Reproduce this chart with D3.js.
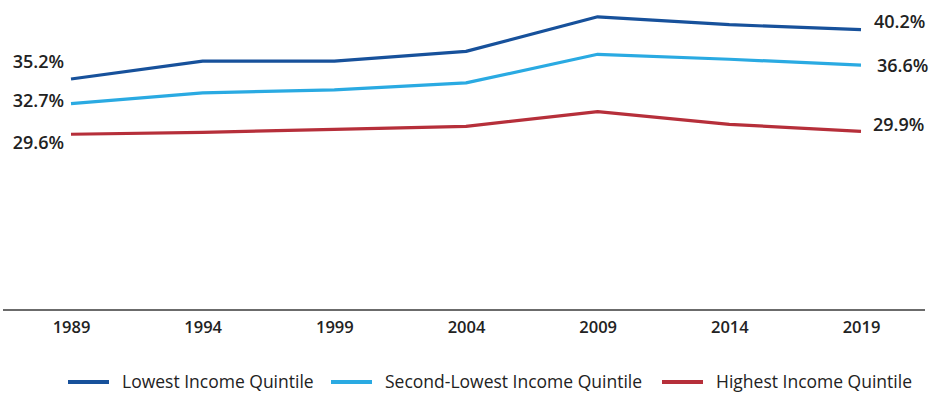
<!DOCTYPE html>
<html>
<head>
<meta charset="utf-8">
<script src="https://cdn.jsdelivr.net/npm/d3@7"></script>
<style>
  body { margin: 0; background: #fff; }
  svg { display: block; font-family: "Open Sans", "Lato", sans-serif; }
</style>
</head>
<body>
<svg width="930" height="393"></svg>
<script>
  // data
  var years = [1989, 1994, 1999, 2004, 2009, 2014, 2019];
  var lowest = [35.2, 37.0, 37.0, 38.0, 41.5, 40.7, 40.2];
  var secondLowest = [32.7, 33.8, 34.1, 34.8, 37.7, 37.2, 36.6];
  var highest = [29.6, 29.8, 30.1, 30.4, 31.9, 30.6, 29.9];
  var seriesNames = ["Lowest Income Quintile", "Second-Lowest Income Quintile", "Highest Income Quintile"];

  // styles
  var colors = ["#17519b", "#2aaae2", "#b62f3a"];
  var labelOffsets = [[-17, -8], [-3, 1], [8, -7]];   // left / right label nudges
  var rightLabelX = [874, 877, 873];
  var legendTextX = [122, 385, 716];

  var svg = d3.select("svg");

  var x = d3.scaleLinear().domain([1989, 2019]).range([71, 861]);
  var y = d3.scaleLinear().domain([11.8, 43.2]).range([310, 0]);

  var series = [lowest, secondLowest, highest].map(function(vals, i){
    return {
      name: seriesNames[i],
      color: colors[i],
      points: vals.map(function(v, j){ return {year: years[j], value: v}; })
    };
  });

  var line = d3.line()
    .x(function(d){ return x(d.year); })
    .y(function(d){ return y(d.value); });

  // baseline
  svg.append("line")
    .attr("x1", 3).attr("x2", 925)
    .attr("y1", y(11.8)).attr("y2", y(11.8))
    .attr("stroke", "#3a3a3a")
    .attr("stroke-width", 1.5);

  // x axis labels
  var xAxis = d3.axisBottom(x)
    .tickValues(years)
    .tickFormat(d3.format("d"))
    .tickSize(0)
    .tickPadding(11);

  var gx = svg.append("g")
    .attr("transform", "translate(0," + y(11.8) + ")")
    .call(xAxis);
  gx.select(".domain").remove();
  gx.selectAll("text")
    .attr("font-family", "'Open Sans', sans-serif")
    .attr("font-size", 16.5)
    .attr("font-weight", 600)
    .attr("fill", "#222");

  // lines
  svg.selectAll("path.series")
    .data(series)
    .enter().append("path")
    .attr("class", "series")
    .attr("d", function(d){ return line(d.points); })
    .attr("fill", "none")
    .attr("stroke", function(d){ return d.color; })
    .attr("stroke-width", 3.2)
    .attr("stroke-linejoin", "round");

  // start labels
  svg.selectAll("text.start")
    .data(series)
    .enter().append("text")
    .attr("class", "start")
    .attr("x", 64)
    .attr("y", function(d, i){ return y(d.points[0].value) + labelOffsets[i][0]; })
    .attr("dy", "0.35em")
    .attr("text-anchor", "end")
    .attr("font-size", 18)
    .attr("font-weight", 600)
    .attr("fill", "#222")
    .text(function(d){ return d.points[0].value.toFixed(1) + "%"; });

  // end labels
  svg.selectAll("text.end")
    .data(series)
    .enter().append("text")
    .attr("class", "end")
    .attr("x", function(d, i){ return rightLabelX[i]; })
    .attr("y", function(d, i){ return y(d.points[d.points.length - 1].value) + labelOffsets[i][1]; })
    .attr("dy", "0.35em")
    .attr("font-size", 18)
    .attr("font-weight", 600)
    .attr("fill", "#222")
    .text(function(d){ return d.points[d.points.length - 1].value.toFixed(1) + "%"; });

  // legend
  var legend = svg.selectAll("g.legend")
    .data(series)
    .enter().append("g")
    .attr("class", "legend")
    .attr("transform", function(d, i){ return "translate(" + legendTextX[i] + ",382)"; });

  legend.append("line")
    .attr("x1", -54).attr("x2", -13)
    .attr("stroke", function(d){ return d.color; })
    .attr("stroke-width", 4);

  legend.append("text")
    .attr("x", 0)
    .attr("dy", "0.35em")
    .attr("font-size", 17.5)
    .attr("fill", "#222")
    .text(function(d){ return d.name; });
</script>
</body>
</html>
